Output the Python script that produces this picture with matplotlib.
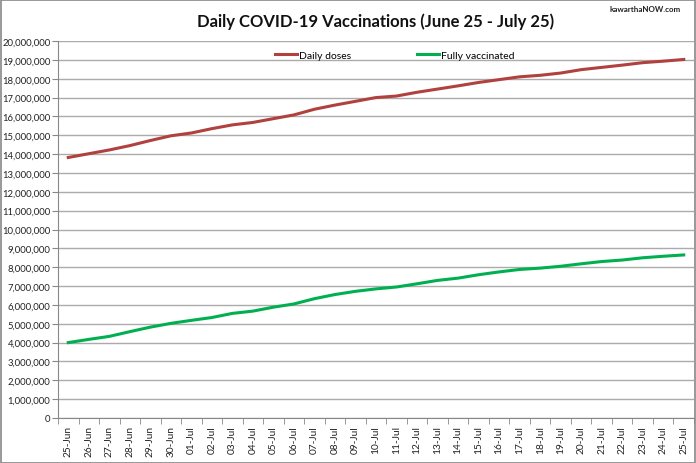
import matplotlib
matplotlib.use("Agg")
import matplotlib.pyplot as plt
import matplotlib.patches as patches
from matplotlib.ticker import FuncFormatter, FixedLocator
import numpy as np

# Datos
dates = ["25-Jun", "26-Jun", "27-Jun", "28-Jun", "29-Jun", "30-Jun",
         "01-Jul", "02-Jul", "03-Jul", "04-Jul", "05-Jul", "06-Jul", "07-Jul",
         "08-Jul", "09-Jul", "10-Jul", "11-Jul", "12-Jul", "13-Jul", "14-Jul",
         "15-Jul", "16-Jul", "17-Jul", "18-Jul", "19-Jul", "20-Jul", "21-Jul",
         "22-Jul", "23-Jul", "24-Jul", "25-Jul"]
daily_doses = [13.82, 14.02, 14.22, 14.45, 14.72, 14.97, 15.12, 15.35, 15.55,
               15.68, 15.88, 16.08, 16.38, 16.60, 16.80, 17.00, 17.08, 17.28,
               17.45, 17.62, 17.80, 17.95, 18.10, 18.18, 18.30, 18.48, 18.60,
               18.72, 18.85, 18.93, 19.02]
fully_vaccinated = [4.00, 4.17, 4.33, 4.58, 4.82, 5.02, 5.18, 5.33, 5.55, 5.67,
                    5.88, 6.05, 6.33, 6.55, 6.72, 6.85, 6.95, 7.12, 7.30, 7.42,
                    7.60, 7.75, 7.88, 7.95, 8.05, 8.18, 8.30, 8.38, 8.50, 8.58,
                    8.65]
daily_doses = [v * 1e6 for v in daily_doses]
fully_vaccinated = [v * 1e6 for v in fully_vaccinated]

plt.rcParams['font.family'] = ['Lato', 'DejaVu Sans']

W, H = 696, 464
fig = plt.figure(figsize=(W / 100, H / 100), dpi=100)
ax = fig.add_axes([58 / W, 1 - 419 / H, (694 - 58) / W, (419 - 42) / H])

x = np.arange(len(dates))
ax.plot(x, daily_doses, color="#B0413E", lw=2.2, label="Daily doses")
ax.plot(x, fully_vaccinated, color="#00B050", lw=2.2, label="Fully vaccinated")

ax.set_xlim(-0.5, len(dates) - 0.5)
ax.set_ylim(0, 20e6)
ax.set_yticks(np.arange(0, 20e6 + 1, 1e6))
ax.yaxis.set_major_formatter(FuncFormatter(lambda v, p: f"{v:,.0f}"))
ax.grid(axis="y", color="#ababab", lw=1)
ax.set_axisbelow(True)

# Etiquetas en el centro de la categoria, marcas entre categorias
ax.set_xticks(x)
ax.set_xticklabels(dates, rotation=90, fontsize=7.3, color="#222222")
ax.tick_params(axis="x", which="major", length=0, pad=5)
ax.xaxis.set_minor_locator(FixedLocator(np.arange(-0.5, len(dates), 1)))
ax.tick_params(axis="x", which="minor", length=4, color="#888888")
ax.tick_params(axis="y", labelsize=6.8, length=4, pad=1.5, color="#888888", labelcolor="#222222")

for s in ["top", "right"]:
    ax.spines[s].set_visible(False)
ax.spines["left"].set_color("#888888")
ax.spines["bottom"].set_color("#888888")

ax.legend(loc="center left", bbox_to_anchor=((275 - 58) / 636, 1 - 14 / 377), ncol=2,
          frameon=False, fontsize=7.5, handlelength=2.1, handletextpad=0.2,
          columnspacing=6.3, borderpad=0, borderaxespad=0)

# Titulo centrado sobre el area del grafico
fig.text(376 / W, 1 - 22 / H, "Daily COVID-19 Vaccinations (June 25 - July 25)",
         ha="center", va="center", fontsize=12, weight="bold", color="#111111")
fig.text(681 / W, 1 - 9 / H, "kawarthaNOW.com", ha="right", va="center",
         fontsize=5.8, weight="bold", color="#222222")

# Recuadro exterior
rect = patches.Rectangle((0.5 / W, 0.5 / H), 1 - 1.5 / W, 1 - 1.5 / H, transform=fig.transFigure,
                         fill=False, linewidth=1.2, edgecolor="#888888")
fig.patches.append(rect)

fig.savefig("out.png", dpi=100)
